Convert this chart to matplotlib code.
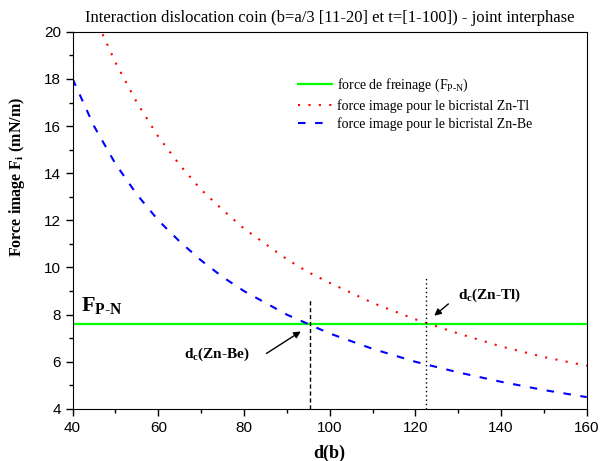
import numpy as np
import matplotlib
matplotlib.use('Agg')
import matplotlib.pyplot as plt

plt.rcParams['font.family'] = 'Liberation Serif'
plt.rcParams['mathtext.fontset'] = 'custom'
plt.rcParams['mathtext.rm'] = 'Liberation Serif'
plt.rcParams['mathtext.it'] = 'Liberation Serif:italic'
plt.rcParams['mathtext.bf'] = 'Liberation Serif:bold'

# values
d_be = [40, 45, 50, 55, 60, 65, 70, 75, 80, 85, 90, 95, 100, 110, 120, 130, 140, 150, 160]
f_be = [18.0, 16.0, 14.4, 13.1, 12.0, 11.1, 10.3, 9.6, 9.0, 8.5, 8.0, 7.6, 7.2,
        6.55, 6.0, 5.55, 5.15, 4.8, 4.5]

d_tl = [45, 50, 55, 60, 65, 70, 75, 80, 85, 90, 95, 100, 110, 120, 130, 140, 150, 160]
f_tl = [20.7, 18.7, 17.0, 15.55, 14.35, 13.3, 12.45, 11.65, 11.0, 10.35, 9.8, 9.35,
        8.5, 7.8, 7.2, 6.65, 6.2, 5.83]

f_pn = 7.6
dc_be = 95.4
dc_tl = 122.4

fig = plt.figure(figsize=(6, 4.61), dpi=100)
ax = fig.add_axes([0.121, 0.113, 0.857, 0.818])

ax.plot([40, 160], [f_pn, f_pn], color='#00ff00', lw=1.6, label='force de freinage (F$_{\\mathrm{P\\text{-}N}}$)')
ax.plot(d_tl, f_tl, color='red', lw=1.5, linestyle=(0, (1, 4)),
        label='force image pour le bicristal Zn-Tl')
ax.plot(d_be, f_be, color='blue', lw=1.5, linestyle=(0, (3.6, 4.6)),
        label='force image pour le bicristal Zn-Be')

# critical distance markers
ax.plot([dc_be, dc_be], [4, 8.67], color='k', lw=1, linestyle=(0, (3, 2)))
ax.plot([dc_tl, dc_tl], [4, 9.62], color='k', lw=1, linestyle=(0, (1, 2.1)))

ax.annotate('', xy=(93.8, 7.35), xytext=(84.7, 6.29),
            arrowprops=dict(arrowstyle='-|>', color='k', lw=1, mutation_scale=10))
ax.annotate('', xy=(123.9, 7.88), xytext=(128.2, 8.53),
            arrowprops=dict(arrowstyle='-|>', color='k', lw=1, mutation_scale=10))

ax.text(66, 6.3, '$\\mathbf{d_c}$(Zn-Be)', fontsize=11, fontweight='bold', ha='left', va='center')
ax.text(129.9, 8.84, '$\\mathbf{d_c}$(Zn-Tl)', fontsize=11, fontweight='bold', ha='left', va='center')
ax.text(41.9, 8.17, 'F$_{\\mathbf{P\\text{-}N}}$', fontsize=16, fontweight='bold', ha='left', va='baseline')

ax.set_xlim(40, 160)
ax.set_ylim(4, 20)
ax.set_xticks(np.arange(40, 161, 20))
ax.set_xticks(np.arange(40, 161, 10), minor=True)
ax.set_yticks(np.arange(4, 21, 2))
ax.set_yticks(np.arange(4, 21, 1), minor=True)
ax.tick_params(which='major', direction='out', length=5, width=1, labelsize=11)
ax.tick_params(which='minor', direction='out', length=3, width=1)
for lab in ax.get_xticklabels() + ax.get_yticklabels():
    lab.set_family('Liberation Sans')

ax.set_xlabel('d(b)', fontsize=13, fontweight='bold', labelpad=7)
ax.set_ylabel('Force image $\\mathbf{F_i}$ (mN/m)', fontsize=11.5, fontweight='bold')
ax.yaxis.set_label_coords(-0.088, 0.614)
ax.set_title('Interaction dislocation coin (b=a/3 [11-20] et t=[1-100]) - joint interphase',
             fontsize=12, pad=7)

ax.legend(loc='upper left', bbox_to_anchor=(0.438, 0.881), frameon=False, fontsize=10,
          handlelength=2.45, handletextpad=0.4, labelspacing=0.35, borderpad=0, borderaxespad=0)

fig.savefig('out.png', dpi=100)
